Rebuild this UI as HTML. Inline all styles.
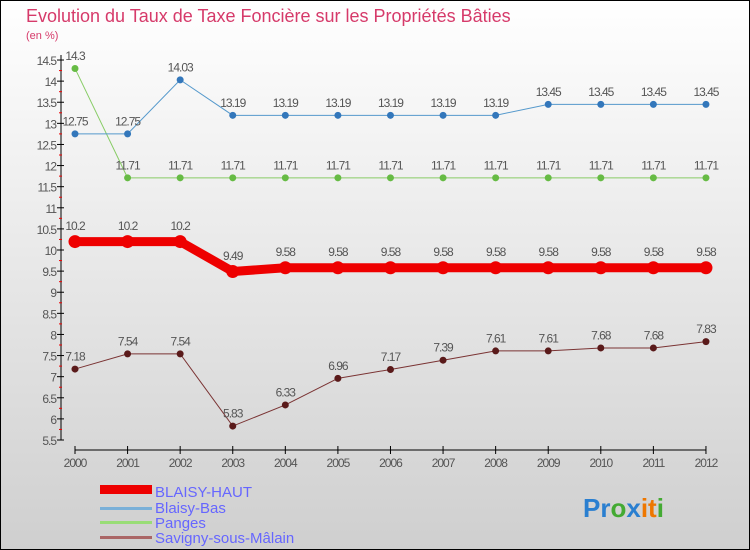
<!DOCTYPE html>
<html><head><meta charset="utf-8"><style>
body{margin:0}
svg{display:block;font-family:"Liberation Sans",sans-serif}
</style></head><body>
<svg id="c" width="750" height="550">
<defs><linearGradient id="bg" x1="0" y1="0" x2="0" y2="1"><stop offset="0" stop-color="#ffffff"/><stop offset="1" stop-color="#cfcfcf"/></linearGradient></defs>
<rect x="0.5" y="0.5" width="749" height="549" fill="url(#bg)" stroke="#000"/>
<text x="26" y="22" font-size="18" fill="#d63a6a">Evolution du Taux de Taxe Foncière sur les Propriétés Bâties</text>
<text x="26" y="39" font-size="11" fill="#d63a6a">(en %)</text>
<g id="axes"></g><g id="series"></g>
<g font-size="15" fill="#6666ff">
<rect x="100" y="485" width="52" height="9" fill="#ee0000"/>
<text x="155" y="497">BLAISY-HAUT</text>
<rect x="100" y="507" width="52" height="3" fill="#7ab0d8"/>
<text x="155" y="513">Blaisy-Bas</text>
<rect x="100" y="521" width="52" height="3" fill="#99dd77"/>
<text x="155" y="528">Panges</text>
<rect x="100" y="536" width="52" height="3" fill="#aa6666"/>
<text x="155" y="543">Savigny-sous-Mâlain</text>
</g>
<text x="583" y="517" font-size="26" font-weight="bold"><tspan fill="#2a7fd0">Pr</tspan><tspan fill="#44aa33">o</tspan><tspan fill="#2a7fd0">x</tspan><tspan fill="#ee7700">it</tspan><tspan fill="#44aa33">i</tspan></text>
</svg>
<script>
const years=[2000,2001,2002,2003,2004,2005,2006,2007,2008,2009,2010,2011,2012];
const blaisyHaut=[10.2,10.2,10.2,9.49,9.58,9.58,9.58,9.58,9.58,9.58,9.58,9.58,9.58];
const blaisyBas=[12.75,12.75,14.03,13.19,13.19,13.19,13.19,13.19,13.19,13.45,13.45,13.45,13.45];
const panges=[14.3,11.71,11.71,11.71,11.71,11.71,11.71,11.71,11.71,11.71,11.71,11.71,11.71];
const savigny=[7.18,7.54,7.54,5.83,6.33,6.96,7.17,7.39,7.61,7.61,7.68,7.68,7.83];
const yTicks=[5.5,6,6.5,7,7.5,8,8.5,9,9.5,10,10.5,11,11.5,12,12.5,13,13.5,14,14.5];
const NS='http://www.w3.org/2000/svg';
const X=i=>75+i*52.58, Y=v=>440-(v-5.5)*42.22;
function mk(t,a,p){const e=document.createElementNS(NS,t);for(const k in a)e.setAttribute(k,a[k]);p.appendChild(e);return e;}
const ax=document.getElementById('axes');
let e=mk('line',{x1:61,y1:Y(14.5)-5,x2:61,y2:Y(5.5),stroke:'#000'},ax);


yTicks.forEach((v,i)=>{
 let t=mk('line',{x1:57,y1:Y(v),x2:64,y2:Y(v),stroke:'#000'},ax);
 
 
 if(i<yTicks.length-1){let m=mk('line',{x1:59,y1:Y(v+0.25),x2:62,y2:Y(v+0.25),stroke:'#e00'},ax);
 
 }
 let l=mk('text',{x:56,y:Y(v)+5,'text-anchor':'end','font-size':12,fill:'#555','letter-spacing':'-1'},ax);l.textContent=v;
 
 
});
e=mk('line',{x1:X(0),y1:450,x2:X(12),y2:450,stroke:'#000'},ax);


years.forEach((y,i)=>{
 let t=mk('line',{x1:X(i),y1:446,x2:X(i),y2:454,stroke:'#000'},ax);
 
 
 let l=mk('text',{x:X(i),y:467,'text-anchor':'middle','font-size':12,fill:'#555','letter-spacing':'-1'},ax);l.textContent=y;
 
 
});
const sg=document.getElementById('series');
function series(name,vals,col,w,r,dot){
 const g=mk('g',{},sg);
 
 
 const pl=mk('polyline',{points:vals.map((v,i)=>X(i)+','+Y(v)).join(' '),fill:'none',stroke:col,'stroke-width':w},g);
 
 
 vals.forEach((v,i)=>{
  const c=mk('circle',{cx:X(i),cy:Y(v),r:r,fill:dot},g);
  
  
  const t=mk('text',{x:X(i),y:Y(v)-r-5,'text-anchor':'middle','font-size':12,fill:'#555','letter-spacing':'-1'},g);
  t.textContent=v;
  
  
 });
}
series('savigny',savigny,'#7a3333',1,3.5,'#5a1a1a');
series('panges',panges,'#88cc66',1,3.5,'#66bb44');
series('blaisy-bas',blaisyBas,'#5599cc',1,3.5,'#3377bb');
series('blaisy-haut',blaisyHaut,'#ee0000',9,6.5,'#ee0000');
</script>
</body></html>
